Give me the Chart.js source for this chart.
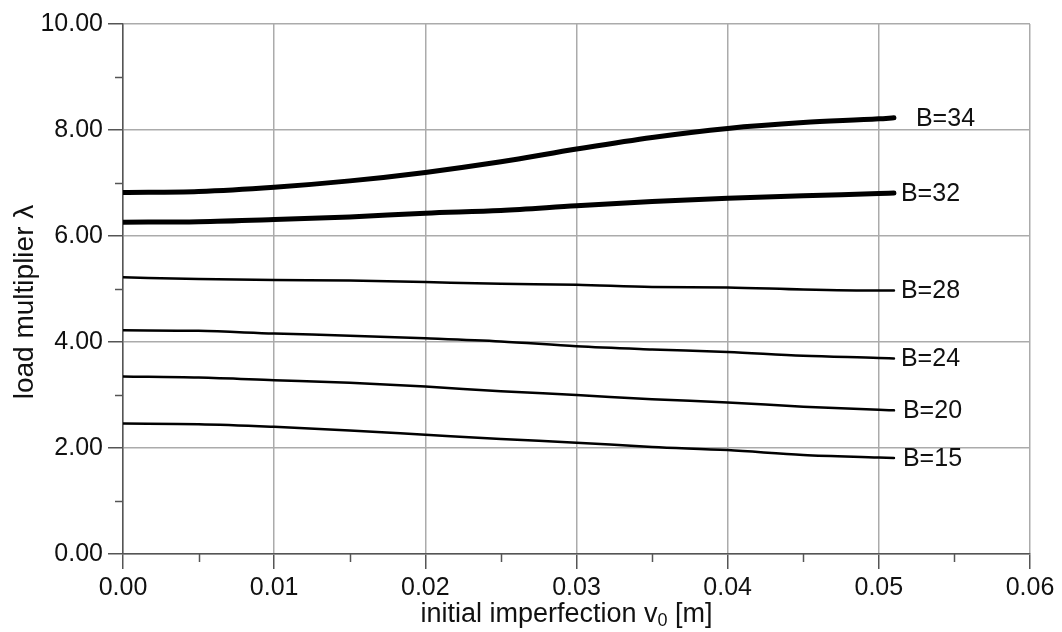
<!DOCTYPE html>
<html>
<head>
<meta charset="utf-8">
<script src="https://cdn.jsdelivr.net/npm/chart.js@4.4.1/dist/chart.umd.min.js"></script>
<style>
html,body{margin:0;padding:0;background:#fff;}
#wrap{width:1062px;height:632px;position:relative;}
</style>
</head>
<body>
<div id="wrap"><canvas id="c" width="1062" height="632"></canvas></div>
<script>
// ---- data ----
const imperfection = [0, 0.005, 0.01, 0.015, 0.02, 0.025, 0.03, 0.035, 0.04, 0.045, 0.05, 0.051];
const seriesNames = ['B=34', 'B=32', 'B=28', 'B=24', 'B=20', 'B=15'];
const b34 = [6.82, 6.84, 6.92, 7.04, 7.20, 7.40, 7.64, 7.86, 8.03, 8.14, 8.21, 8.23];
const b32 = [6.26, 6.27, 6.31, 6.36, 6.43, 6.48, 6.57, 6.65, 6.71, 6.76, 6.80, 6.81];
const b28 = [5.22, 5.19, 5.17, 5.16, 5.13, 5.10, 5.08, 5.04, 5.03, 4.99, 4.97, 4.97];
const b24 = [4.22, 4.21, 4.16, 4.12, 4.07, 4.01, 3.92, 3.86, 3.81, 3.74, 3.70, 3.69];
const b20 = [3.35, 3.33, 3.28, 3.23, 3.16, 3.07, 3.00, 2.92, 2.86, 2.78, 2.72, 2.71];
const b15 = [2.46, 2.45, 2.40, 2.33, 2.25, 2.17, 2.10, 2.02, 1.96, 1.87, 1.82, 1.81];
const seriesValues = [b34, b32, b28, b24, b20, b15];
const xTickLabels = ['0.00', '0.01', '0.02', '0.03', '0.04', '0.05', '0.06'];
const yTickLabels = ['0.00', '2.00', '4.00', '6.00', '8.00', '10.00'];
const xTitleParts = ['initial imperfection v', '0', ' [m]'];
const yTitle = 'load multiplier \u03bb';

// ---- styles ----
const FONT = '"Liberation Sans", Arial, Helvetica, sans-serif';
const lineWidths = [5, 5, 2.5, 2.5, 2.5, 2.5];
const labelDx = [22, 7, 7, 7, 9, 9];
const GRID = '#ababab';
const AXIS = '#555555';

function isMajorX(v){ return Math.abs(v*100 - Math.round(v*100)) < 1e-6; }
function isMajorY(v){ return Math.abs(v/2 - Math.round(v/2)) < 1e-6; }

const datasets = seriesValues.map((vals, i) => ({
  label: seriesNames[i],
  data: imperfection.map((x, j) => ({x: x, y: vals[j]})),
  borderColor: '#000',
  backgroundColor: '#000',
  borderWidth: lineWidths[i],
  pointRadius: 0,
  tension: 0.4,
  cubicInterpolationMode: 'monotone',
  fill: false,
  borderCapStyle: 'round',
  borderJoinStyle: 'round'
}));

const minorTicks = {
  id: 'minorTicks',
  afterDraw(chart){
    const ctx = chart.ctx;
    ctx.save();
    ctx.strokeStyle = AXIS;
    ctx.lineWidth = 1.5;
    const xs = chart.scales.x, ys = chart.scales.y;
    xs.ticks.forEach(t => {
      if (!isMajorX(t.value)) {
        const px = Math.round(xs.getPixelForValue(t.value)) + 0.5;
        ctx.beginPath(); ctx.moveTo(px, xs.top); ctx.lineTo(px, xs.top + 8); ctx.stroke();
      }
    });
    ys.ticks.forEach(t => {
      if (!isMajorY(t.value)) {
        const py = Math.round(ys.getPixelForValue(t.value)) + 0.5;
        ctx.beginPath(); ctx.moveTo(ys.right, py); ctx.lineTo(ys.right - 8, py); ctx.stroke();
      }
    });
    ctx.restore();
  }
};

const axisTitles = {
  id: 'axisTitles',
  afterDraw(chart){
    const ctx = chart.ctx;
    const ca = chart.chartArea;
    ctx.save();
    ctx.fillStyle = '#111';
    // x title with subscript
    const mainFont = '27px ' + FONT, subFont = '18px ' + FONT;
    ctx.font = mainFont;
    const w0 = ctx.measureText(xTitleParts[0]).width;
    const w2 = ctx.measureText(xTitleParts[2]).width;
    ctx.font = subFont;
    const w1 = ctx.measureText(xTitleParts[1]).width;
    const total = w0 + w1 + w2;
    let x = (ca.left + ca.right) / 2 - 10 - total / 2;
    const base = ca.bottom + 68;
    ctx.textAlign = 'left';
    ctx.textBaseline = 'alphabetic';
    ctx.font = mainFont; ctx.fillText(xTitleParts[0], x, base); x += w0;
    ctx.font = subFont; ctx.fillText(xTitleParts[1], x, base + 4); x += w1;
    ctx.font = mainFont; ctx.fillText(xTitleParts[2], x, base);
    // y title
    ctx.translate(25, (ca.top + ca.bottom) / 2 + 13);
    ctx.rotate(-Math.PI / 2);
    ctx.font = '28px ' + FONT;
    ctx.textAlign = 'center';
    ctx.textBaseline = 'middle';
    ctx.fillText(yTitle, 0, 0);
    ctx.restore();
  }
};

const endLabels = {
  id: 'endLabels',
  afterDatasetsDraw(chart){
    const ctx = chart.ctx;
    ctx.save();
    ctx.font = '25px ' + FONT;
    ctx.fillStyle = '#111';
    ctx.textAlign = 'left';
    ctx.textBaseline = 'middle';
    chart.data.datasets.forEach((ds, i) => {
      const meta = chart.getDatasetMeta(i);
      const last = meta.data[meta.data.length - 1];
      ctx.fillText(ds.label, last.x + labelDx[i], last.y + 1);
    });
    ctx.restore();
  }
};

new Chart(document.getElementById('c'), {
  type: 'line',
  data: { datasets: datasets },
  plugins: [minorTicks, endLabels, axisTitles],
  options: {
    responsive: false,
    animation: false,
    events: [],
    layout: { padding: { top: 24, right: 32, left: 0, bottom: 0 } },
    plugins: { legend: { display: false }, tooltip: { enabled: false } },
    scales: {
      x: {
        type: 'linear',
        min: 0, max: 0.06,
        afterFit(scale){ scale.height = 78; },
        ticks: {
          stepSize: 0.005,
          autoSkip: false,
          maxRotation: 0,
          padding: 4,
          color: '#111',
          font: { family: FONT, size: 25 },
          callback(v){ return isMajorX(v) ? xTickLabels[Math.round(v*100)] : ''; }
        },
        grid: {
          drawTicks: true,
          tickLength: 15,
          lineWidth: 1.5,
          tickWidth: 1.5,
          color: c => (c.tick && isMajorX(c.tick.value)) ? GRID : 'rgba(0,0,0,0)',
          tickColor: c => (c.tick && isMajorX(c.tick.value)) ? AXIS : 'rgba(0,0,0,0)'
        },
        border: { display: true, color: AXIS, width: 1.5 }
      },
      y: {
        type: 'linear',
        min: 0, max: 10,
        afterFit(scale){ scale.width = 123; },
        ticks: {
          stepSize: 1,
          autoSkip: false,
          padding: 5,
          color: '#111',
          font: { family: FONT, size: 25 },
          callback(v){ return isMajorY(v) ? yTickLabels[Math.round(v/2)] : ''; }
        },
        grid: {
          drawTicks: true,
          tickLength: 15,
          lineWidth: 1.5,
          tickWidth: 1.5,
          color: c => (c.tick && isMajorY(c.tick.value)) ? GRID : 'rgba(0,0,0,0)',
          tickColor: c => (c.tick && isMajorY(c.tick.value)) ? AXIS : 'rgba(0,0,0,0)'
        },
        border: { display: true, color: AXIS, width: 1.5 }
      }
    }
  }
});
</script>
</body>
</html>
